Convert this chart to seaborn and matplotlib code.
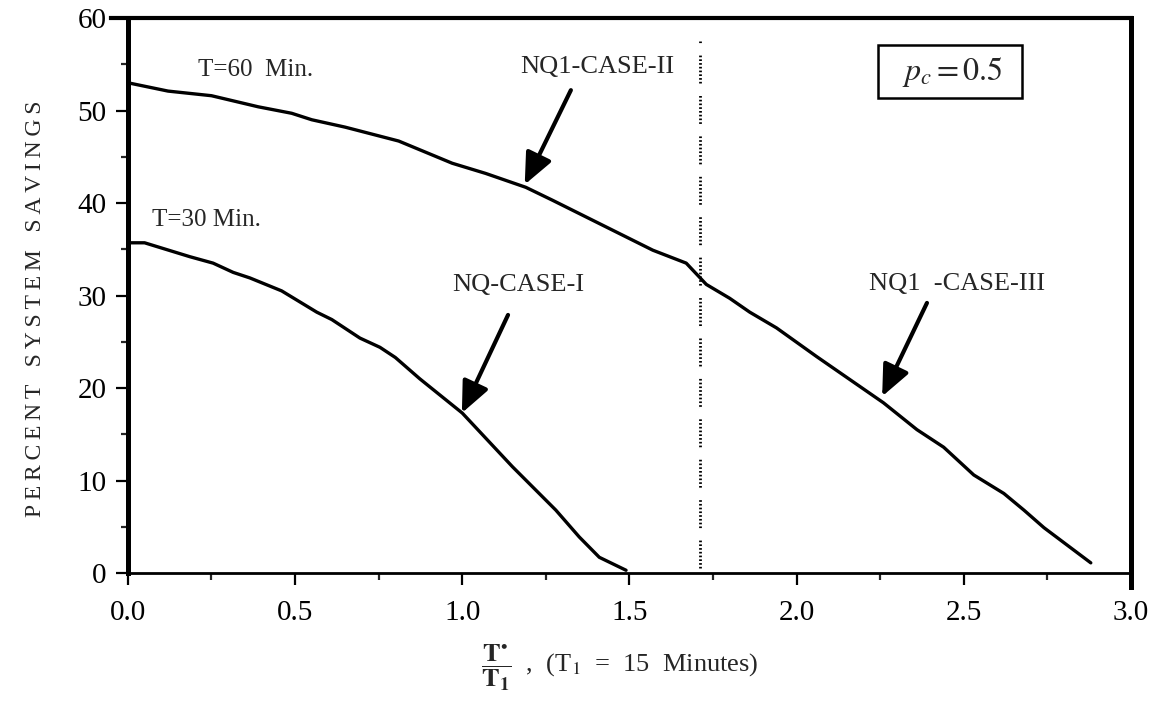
import numpy as np
import pandas as pd
import matplotlib
matplotlib.use('Agg')
import matplotlib.pyplot as plt
from matplotlib.ticker import MultipleLocator
import seaborn as sns

# values
t60_x = [0.0, 0.12, 0.25, 0.39, 0.49, 0.55, 0.65, 0.81, 0.97, 1.07, 1.19, 1.27, 1.42,
         1.57, 1.67, 1.73, 1.80, 1.86, 1.94, 2.06, 2.16, 2.26, 2.36, 2.44, 2.53, 2.62,
         2.68, 2.74, 2.88]
t60_y = [53.0, 52.1, 51.6, 50.4, 49.7, 49.0, 48.2, 46.7, 44.3, 43.2, 41.7, 40.3, 37.6,
         34.9, 33.5, 31.2, 29.7, 28.2, 26.5, 23.4, 20.9, 18.4, 15.5, 13.6, 10.6, 8.6,
         6.8, 4.9, 1.1]

t30_x = [0.0, 0.05, 0.185, 0.255, 0.315, 0.365, 0.46, 0.565, 0.61, 0.694, 0.754, 0.80,
         0.873, 1.0, 1.15, 1.28, 1.35, 1.41, 1.49]
t30_y = [35.7, 35.7, 34.2, 33.5, 32.5, 31.9, 30.5, 28.2, 27.4, 25.4, 24.4, 23.3,
         21.0, 17.3, 11.5, 6.8, 3.9, 1.7, 0.3]

boundary_x = 1.71
boundary_y = [0.5, 57.5]

x_ticks = [0.0, 0.5, 1.0, 1.5, 2.0, 2.5, 3.0]
x_tick_labels = ['0.0', '0.5', '1.0', '1.5', '2.0', '2.5', '3.0']
y_ticks = [0, 10, 20, 30, 40, 50, 60]
y_tick_labels = ['0', '10', '20', '30', '40', '50', '60']

curve_labels = ['T=60  Min.', 'T=30 Min.']
case_labels = ['NQ1-CASE-II', 'NQ-CASE-I', 'NQ1  -CASE-III']
# text centre, arrow tail and arrow tip for each case label
case_text_pos = [(1.403, 54.7), (1.167, 31.1), (2.48, 31.2)]
case_arrow_tail = [(1.325, 52.2), (1.137, 27.9), (2.39, 29.2)]
case_arrow_tip = [(1.187, 42.0), (0.999, 17.3), (2.256, 19.1)]

df = pd.concat([
    pd.DataFrame({'x': t60_x, 'y': t60_y, 'curve': 'T60'}),
    pd.DataFrame({'x': t30_x, 'y': t30_y, 'curve': 'T30'}),
])

sns.set_style('ticks')
plt.rcParams['font.family'] = ['Liberation Serif', 'DejaVu Serif']
plt.rcParams['mathtext.fontset'] = 'stix'

fig = plt.figure(figsize=(11.52, 7.26), dpi=100)
ax = fig.add_axes([0.111, 0.2107, 0.8707, 0.7645])

sns.lineplot(data=df, x='x', y='y', units='curve', estimator=None, sort=False,
             color='black', linewidth=2.4, ax=ax)

# dotted boundary between case II and case III (groups of dots with small gaps)
dots = [0.6, 0.75] * 7 + [0.6, 4.5]
ax.vlines(boundary_x, boundary_y[0], boundary_y[1], colors='black', linewidth=2.0,
          linestyles=[(0, dots)])

ax.set_xlim(0, 3.0)
ax.set_ylim(0, 60)
ax.set_xticks(x_ticks)
ax.set_xticklabels(x_tick_labels)
ax.set_yticks(y_ticks)
ax.set_yticklabels(y_tick_labels)
ax.xaxis.set_minor_locator(MultipleLocator(0.25))
ax.yaxis.set_minor_locator(MultipleLocator(5))
ax.tick_params(which='major', direction='out', length=8.5, width=1.6, labelsize=21,
               colors='black')
ax.tick_params(axis='x', which='major', pad=11)
ax.tick_params(axis='y', which='major', pad=7)
ax.tick_params(which='minor', direction='out', length=5, width=1.6)

ax.spines['left'].set_linewidth(3.6)
ax.spines['top'].set_linewidth(3.0)
ax.spines['right'].set_linewidth(3.6)
ax.spines['bottom'].set_linewidth(2.0)
for s in ax.spines.values():
    s.set_color('black')
ax.spines['right'].set_bounds(-1.5, 60)
ax.spines['top'].set_bounds(-0.05, 3.0)

ylab = '\u2009'.join('PERCENT') + '   ' + '\u2009'.join('SYSTEM') + '   ' + '\u2009'.join('SAVINGS')
ax.set_ylabel(ylab, fontsize=17, va='center')
ax.yaxis.set_label_coords(-0.092, 0.476)
ax.set_xlabel(r'$\dfrac{\mathbf{T}^{\bullet}}{\mathbf{T}_{\mathbf{1}}}$  ,  (T$_1$  =  15  Minutes)',
              fontsize=19, va='center')
ax.xaxis.set_label_coords(0.49, -0.171)

ax.text(0.21, 54.4, curve_labels[0], fontsize=18, ha='left', va='center')
ax.text(0.072, 38.2, curve_labels[1], fontsize=18, ha='left', va='center')

for lab, tp, tail, tip in zip(case_labels, case_text_pos, case_arrow_tail, case_arrow_tip):
    ax.text(tp[0], tp[1], lab, fontsize=19, ha='center', va='center')
    ax.annotate('', xy=tip, xytext=tail,
                arrowprops=dict(arrowstyle='-|>,head_length=0.95,head_width=0.42',
                                mutation_scale=20, lw=3, color='black',
                                shrinkA=0, shrinkB=0))

ax.text(2.46, 54.2, r'  $p_c = 0.5$  ', fontsize=23, ha='center', va='center',
        bbox=dict(boxstyle='square,pad=0.3', fc='white', ec='black', lw=1.8))

fig.savefig('out.png', dpi=100)
